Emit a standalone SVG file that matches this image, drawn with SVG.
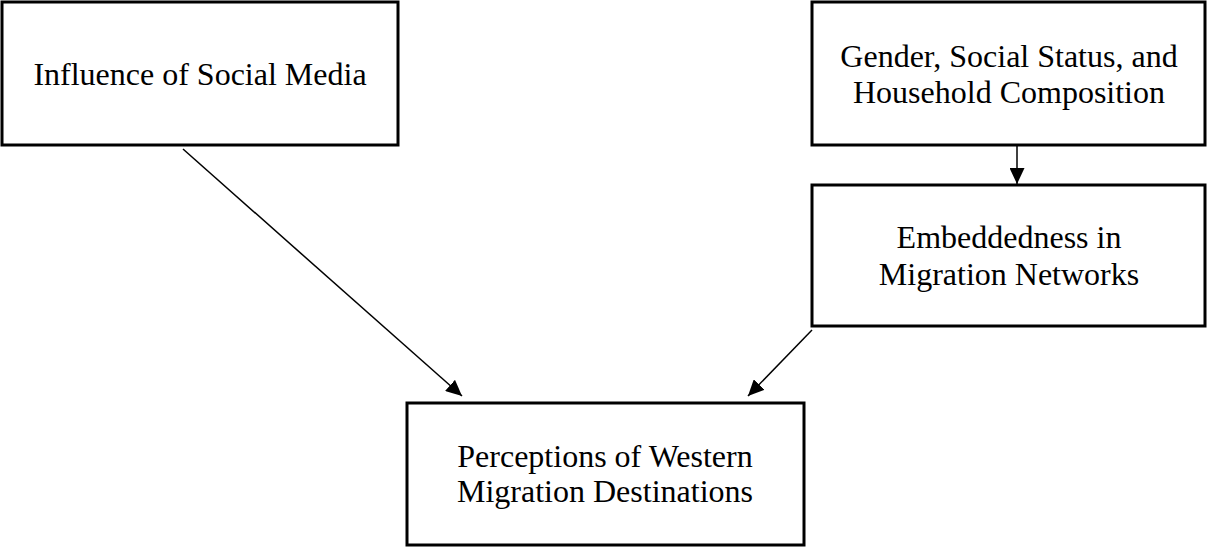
<svg xmlns="http://www.w3.org/2000/svg" width="1207" height="547" viewBox="0 0 1207 547">
<defs>
<style>
.box{fill:#fff;stroke:#000;stroke-width:3}
.t{font-family:"Liberation Serif","Times New Roman",serif;font-size:32px;fill:#000;text-anchor:middle}
.c{stroke:#000;stroke-width:1.5;fill:none}
</style>
<marker id="ah" viewBox="0 0 10 10" refX="10" refY="5" markerWidth="16" markerHeight="15" markerUnits="userSpaceOnUse" orient="auto" preserveAspectRatio="none">
<path d="M0,0 L10,5 L0,10 z" fill="#000"/>
</marker>
</defs>
<rect width="1207" height="547" fill="#fff"/>
<g id="n1"><rect class="box" x="2" y="2" width="396" height="143"/><text class="t" x="200" y="85">Influence of Social Media</text></g>
<g id="n2"><rect class="box" x="812" y="2" width="393" height="143"/><text class="t" x="1009" y="67">Gender, Social Status, and</text><text class="t" x="1009" y="103">Household Composition</text></g>
<g id="n3"><rect class="box" x="812" y="185" width="393" height="141"/><text class="t" x="1009" y="248">Embeddedness in</text><text class="t" x="1009" y="285">Migration Networks</text></g>
<g id="n4"><rect class="box" x="407" y="403" width="397" height="142"/><text class="t" x="605" y="467">Perceptions of Western</text><text class="t" x="605" y="502">Migration Destinations</text></g>
<g id="connectors">
<line class="c" x1="1017" y1="146" x2="1017" y2="184" marker-end="url(#ah)"/>
<line class="c" x1="183" y1="149" x2="462" y2="396" marker-end="url(#ah)"/>
<line class="c" x1="812" y1="330" x2="748" y2="396" marker-end="url(#ah)"/>
</g>
</svg>
